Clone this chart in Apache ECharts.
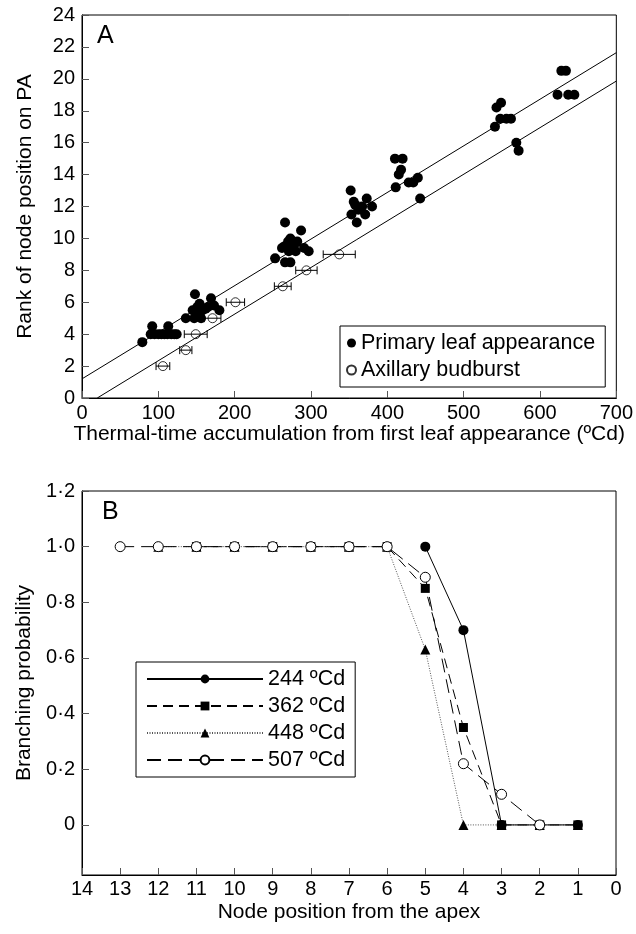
<!DOCTYPE html>
<html><head><meta charset="utf-8">
<script src="https://cdn.jsdelivr.net/npm/echarts@6/dist/echarts.min.js"></script>
<style>html,body{margin:0;padding:0;background:#fff}#c{width:636px;height:934px}</style>
</head><body><div id="c"></div>
<script>
// ---------- Panel A data ----------
const leafX = [79, 92, 113, 90, 95, 100, 104, 108, 112, 117, 121, 124,
  136, 148, 145, 147, 154, 158, 156, 165, 169, 173, 180, 151, 153, 162,
  253, 266, 287, 266, 273, 273, 265, 270, 277, 282, 297, 291, 271, 262, 280,
  352, 356, 373, 380, 353, 360, 362, 371, 367, 358,
  410, 420, 418, 415, 411, 428, 434, 440, 443,
  541, 543, 549, 548, 556, 562, 569, 572,
  628, 634, 623, 637, 645];
const leafY = [3.5, 4.5, 4.5, 4, 4, 4, 4, 4, 4, 4, 4, 4,
  5.0, 6.5, 5.5, 5.0, 5.9, 5.5, 5.0, 5.7, 6.25, 5.8, 5.5, 5.7, 5.3, 5.6,
  8.75, 11, 10.5, 8.5, 8.5, 10, 9.5, 9.8, 9.6, 9.8, 9.2, 9.4, 9.2, 9.4, 9.2,
  13, 12.3, 12.5, 12, 11.5, 11, 11.8, 11.5, 12, 12.1,
  15, 15, 14.3, 14, 13.2, 13.5, 13.5, 13.8, 12.5,
  17, 18.2, 18.5, 17.5, 17.5, 17.5, 16, 15.5,
  20.5, 20.5, 19, 19, 19];
const budX = [106, 136, 149, 171, 201, 263, 294, 337];
const budY = [2, 3, 4, 5, 6, 7, 8, 9];
const budErr = [9, 8, 15, 11, 12, 11, 14, 21];
const fitLeafX = [0, 700];
const fitLeafY = [1.2, 21.64];
const fitBudX = [20, 700];
const fitBudY = [0, 19.86];
const xTicksA = [0, 100, 200, 300, 400, 500, 600, 700];
const yTicksA = [0, 2, 4, 6, 8, 10, 12, 14, 16, 18, 20, 22, 24];

// ---------- Panel B data ----------
const s244X = [5, 4, 3, 2, 1];
const s244Y = [1, 0.7, 0, 0, 0];
const s362X = [11, 10, 9, 8, 7, 6, 5, 4, 3, 2, 1];
const s362Y = [1, 1, 1, 1, 1, 1, 0.85, 0.35, 0, 0, 0];
const s448X = [12, 11, 10, 9, 8, 7, 6, 5, 4, 3, 2, 1];
const s448Y = [1, 1, 1, 1, 1, 1, 1, 0.63, 0, 0, 0, 0];
const s507X = [13, 12, 11, 10, 9, 8, 7, 6, 5, 4, 3, 2];
const s507Y = [1, 1, 1, 1, 1, 1, 1, 1, 0.89, 0.22, 0.11, 0];
const yTicksB = [0, 0.2, 0.4, 0.6, 0.8, 1.0, 1.2];
const seriesNamesB = ['244 ºCd', '362 ºCd', '448 ºCd', '507 ºCd'];

const zip = (a, b) => a.map((v, i) => [v, b[i]]);
const FONT = "'Liberation Sans', Arial, Helvetica, sans-serif";

const axisCommon = {
  axisLine: { onZero: false, lineStyle: { color: '#000', width: 1 } },
  axisTick: { inside: true, length: 7, lineStyle: { color: '#555' } },
  splitLine: { show: false },
  nameLocation: 'middle',
  nameTextStyle: { fontSize: 21, color: '#000', fontFamily: FONT },
};
const labelCommon = { fontSize: 20, color: '#000', fontFamily: FONT };

const chart = echarts.init(document.getElementById('c'), null, { renderer: 'canvas' });
chart.setOption({
  animation: false,
  backgroundColor: '#fff',
  textStyle: { fontFamily: FONT },
  grid: [
    { left: 82, top: 15, width: 537, height: 383, show: true, borderColor: '#000', borderWidth: 1 },
    { left: 82, top: 491, width: 534, height: 384, show: true, borderColor: '#000', borderWidth: 1 }
  ],
  xAxis: [
    Object.assign({}, axisCommon, {
      gridIndex: 0, type: 'value', min: xTicksA[0], max: xTicksA[xTicksA.length - 1], interval: 100,
      name: 'Thermal-time accumulation from first leaf appearance (ºCd)', nameGap: 26,
      axisLabel: Object.assign({ margin: 5 }, labelCommon)
    }),
    Object.assign({}, axisCommon, {
      gridIndex: 1, type: 'value', min: 0, max: 14, interval: 1, inverse: true,
      name: 'Node position from the apex', nameGap: 27,
      axisLabel: Object.assign({ margin: 4 }, labelCommon)
    })
  ],
  yAxis: [
    Object.assign({}, axisCommon, {
      gridIndex: 0, type: 'value', min: yTicksA[0], max: yTicksA[yTicksA.length - 1], interval: 2,
      name: 'Rank of node position on PA', nameGap: 46,
      axisLabel: Object.assign({ margin: 7 }, labelCommon)
    }),
    Object.assign({}, axisCommon, {
      gridIndex: 1, type: 'value', min: -0.18, max: 1.2,
      name: 'Branching probability', nameGap: 46,
      axisTick: { inside: true, length: 7, lineStyle: { color: '#555' }, customValues: yTicksB },
      axisLabel: Object.assign({
        margin: 7, customValues: yTicksB,
        formatter: v => (Math.abs(v) < 1e-9 ? '0' : v.toFixed(1).replace('.', '·'))
      }, labelCommon)
    })
  ],
  legend: [
    {
      data: ['Primary leaf appearance', 'Axillary budburst'],
      orient: 'vertical', left: 340, top: 326,
      borderColor: '#000', borderWidth: 1, borderRadius: 0,
      padding: [6, 10, 6, 6], itemWidth: 9, itemHeight: 9, itemGap: 5,
      textStyle: { fontSize: 21.5, color: '#000', lineHeight: 22, fontFamily: FONT },
      backgroundColor: '#fff'
    },
    {
      data: seriesNamesB,
      orient: 'vertical', left: 136, top: 662,
      borderColor: '#000', borderWidth: 1, borderRadius: 0,
      padding: [6, 10, 6, 10], itemWidth: 116, itemHeight: 11, itemGap: 5,
      textStyle: { fontSize: 21.5, color: '#000', lineHeight: 22, fontFamily: FONT },
      backgroundColor: '#fff'
    }
  ],
  graphic: [
    { type: 'text', left: 97, top: 24, style: { text: 'A', fontSize: 25, fill: '#000', fontFamily: FONT } },
    { type: 'text', left: 102, top: 500, style: { text: 'B', fontSize: 25, fill: '#000', fontFamily: FONT } }
  ],
  series: [
    {
      type: 'line', name: 'fitLeaf', xAxisIndex: 0, yAxisIndex: 0, data: zip(fitLeafX, fitLeafY),
      symbol: 'none', silent: true, lineStyle: { color: '#000', width: 1 }, z: 1
    },
    {
      type: 'line', name: 'fitBud', xAxisIndex: 0, yAxisIndex: 0, data: zip(fitBudX, fitBudY),
      symbol: 'none', silent: true, lineStyle: { color: '#000', width: 1 }, z: 1
    },
    {
      type: 'custom', name: 'budErr', xAxisIndex: 0, yAxisIndex: 0, z: 2,
      data: budX.map((x, i) => [x, budY[i], budErr[i]]),
      renderItem: (params, api) => {
        const x = api.value(0), y = api.value(1), e = api.value(2);
        const p1 = api.coord([x - e, y]), p2 = api.coord([x + e, y]);
        const h = 4, st = { stroke: '#000', lineWidth: 1 };
        return { type: 'group', children: [
          { type: 'line', shape: { x1: p1[0], y1: p1[1], x2: p2[0], y2: p2[1] }, style: st },
          { type: 'line', shape: { x1: p1[0], y1: p1[1] - h, x2: p1[0], y2: p1[1] + h }, style: st },
          { type: 'line', shape: { x1: p2[0], y1: p2[1] - h, x2: p2[0], y2: p2[1] + h }, style: st }
        ] };
      }
    },
    {
      type: 'scatter', name: 'Primary leaf appearance', xAxisIndex: 0, yAxisIndex: 0,
      data: zip(leafX, leafY), symbol: 'circle', symbolSize: 10,
      itemStyle: { color: '#000', opacity: 1 }, z: 3
    },
    {
      type: 'scatter', name: 'Axillary budburst', xAxisIndex: 0, yAxisIndex: 0,
      data: zip(budX, budY), symbol: 'circle', symbolSize: 9,
      itemStyle: { color: 'rgba(255,255,255,0)', borderColor: '#000', borderWidth: 1 }, z: 4
    },
    {
      type: 'line', name: '362 ºCd', xAxisIndex: 1, yAxisIndex: 1, data: zip(s362X, s362Y),
      symbol: 'rect', symbolSize: 9, showAllSymbol: true,
      lineStyle: { color: '#000', width: 1, type: [10, 6] },
      itemStyle: { color: '#000' }, z: 3
    },
    {
      type: 'line', name: '448 ºCd', xAxisIndex: 1, yAxisIndex: 1, data: zip(s448X, s448Y),
      symbol: 'triangle', symbolSize: 10, showAllSymbol: true,
      lineStyle: { color: '#555', width: 1, type: [1, 1.5] },
      itemStyle: { color: '#000' }, z: 4
    },
    {
      type: 'line', name: '244 ºCd', xAxisIndex: 1, yAxisIndex: 1, data: zip(s244X, s244Y),
      symbol: 'circle', symbolSize: 10, showAllSymbol: true,
      lineStyle: { color: '#000', width: 1, type: 'solid' },
      itemStyle: { color: '#000' }, z: 5
    },
    {
      type: 'line', name: '507 ºCd', xAxisIndex: 1, yAxisIndex: 1, data: zip(s507X, s507Y),
      symbol: 'circle', symbolSize: 10, showAllSymbol: true,
      lineStyle: { color: '#000', width: 1, type: [14, 7] },
      itemStyle: { color: '#fff', borderColor: '#000', borderWidth: 1 }, z: 6
    }
  ]
});
</script>
</body></html>
